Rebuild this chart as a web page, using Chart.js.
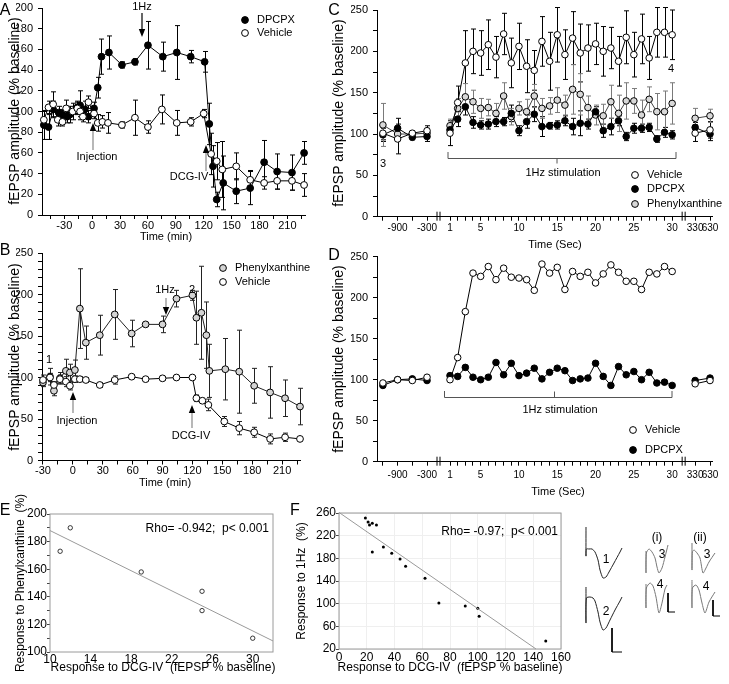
<!DOCTYPE html>
<html><head><meta charset="utf-8">
<script src="https://cdn.jsdelivr.net/npm/chart.js@4.4.1/dist/chart.umd.min.js"></script>
<style>
html,body{margin:0;padding:0;background:#fff;}
body{position:relative;width:729px;height:684px;overflow:hidden;}
canvas{position:absolute;}
</style></head><body>
<canvas id="cA" width="729" height="684" style="left:0;top:0"></canvas>
<canvas id="cB" width="729" height="684" style="left:0;top:0"></canvas>
<canvas id="cC" width="729" height="684" style="left:0;top:0"></canvas>
<canvas id="cD" width="729" height="684" style="left:0;top:0"></canvas>
<canvas id="cE" width="729" height="684" style="left:0;top:0"></canvas>
<canvas id="cF" width="729" height="684" style="left:0;top:0"></canvas>
<canvas id="t1" width="40" height="60" style="left:584px;top:524px"></canvas>
<canvas id="t2" width="40" height="76" style="left:584px;top:580px"></canvas>
<canvas id="t3" width="30" height="40" style="left:644px;top:540px"></canvas>
<canvas id="t4" width="36" height="40" style="left:644px;top:578px"></canvas>
<canvas id="t5" width="30" height="40" style="left:690px;top:538px"></canvas>
<canvas id="t6" width="34" height="44" style="left:690px;top:576px"></canvas>
<script>
// ================= DATA =================
// Panel A : time (min), fEPSP amplitude (% baseline), SEM
const timeA_dpcpx  = [-52,-47,-42,-36,-32,-27,-24,-16,-13,-8,-4,2,6,10,18,32,46,60,76,91,106,121,126,130,134,141,155,170,185,199,215,228];
const fepspA_dpcpx = [87,85,102,99,97,95,97,104,106,102,95,103,123,153,157,145,148,164,153,157,153,148,88,47,15,31,23,26,51,42,41,60];
const semA_dpcpx   = [14,12,8,6,5,6,8,6,14,8,6,6,10,17,16,3,3,23,14,26,6,10,20,20,7,26,12,16,21,17,17,11];
const timeA_vehicle  = [-52,-47,-42,-37,-32,-28,-21,-16,-13,-10,-4,2,6,11,17,32,46,60,75,91,106,120,128,134,140,155,170,185,199,215,228];
const fepspA_vehicle = [92,104,107,92,90,103,100,103,100,95,109,98,89,90,89,87,94,85,102,89,90,98,59,52,44,47,34,31,33,33,29];
const semA_vehicle   = [8,6,12,6,4,8,8,6,5,5,6,5,8,6,10,3,17,6,14,12,4,4,20,18,27,13,9,6,8,9,11];
const ticksA_time  = [-45,-30,-15,0,15,30,45,60,75,90,105,120,135,150,165,180,195,210,225];
const labelsA_time = [-30,0,30,60,90,120,150,180,210];
const ticksA_fepsp = [0,20,40,60,80,100,120,140,160,180,200];

// Panel B
const timeB_phenyl  = [-30,-23,-19,-13,-7,-3,2,7,13,27,42,59,73,90,104,120,124,129,134,137,153,167,182,198,213,228];
const fepspB_phenyl = [94,101,84,99,108,106,109,183,142,151,176,153,164,164,195,199,172,178,151,108,110,107,90,82,75,65];
const semB_phenyl   = [5,10,6,7,14,10,12,48,20,24,30,16,2,10,10,6,32,56,40,32,37,50,21,31,22,22];
const timeB_vehicle  = [-30,-23,-19,-13,-7,-3,2,7,13,27,42,59,73,90,104,120,124,130,136,152,167,182,198,213,228];
const fepspB_vehicle = [97,100,91,98,95,90,98,98,97,91,97,101,98,99,100,100,75,72,67,47,39,34,26,28,26];
const semB_vehicle   = [6,5,4,5,6,5,4,3,3,3,5,2,2,2,2,2,4,3,7,6,8,6,6,5,2];
const ticksB_time  = [-30,-15,0,15,30,45,60,75,90,105,120,135,150,165,180,195,210,225];
const labelsB_time = [-30,0,30,60,90,120,150,180,210];
const ticksB_fepsp = [0,10,20,30,40,50,60,70,80,90,100,110,120,130,140,150,160,170,180,190,200,210,220,230,240,250];
const labelsB_fepsp = [0,50,100,150,200,250];

// Panels C and D : time (s) relative to 1Hz stimulation
const timeCD = [-1200,-900,-600,-300,1,2,3,4,5,6,7,8,9,10,11,12,13,14,15,16,17,18,19,20,21,22,23,24,25,26,27,28,29,30,330,630];
const labelsCD_time = [-900,-300,1,5,10,15,20,25,30,330,630];
const ticksCD_fepsp = [0,25,50,75,100,125,150,175,200,225,250];
const labelsCD_fepsp = [0,50,100,150,200,250];
const fepspC_vehicle = [101,94,101,104, 101,138,186,200,198,208,193,221,186,206,182,177,212,188,220,196,216,198,204,209,200,204,188,217,196,215,192,223,223,220, 101,105];
const semC_vehicle   = [8,18,3,6, 15,20,39,27,27,30,25,25,30,28,32,24,30,35,33,30,32,35,28,25,30,25,30,32,27,30,26,30,30,30, 10,10];
const fepspC_dpcpx   = [99,107,96,97, 105,118,133,114,111,112,115,115,125,104,115,124,109,110,111,116,109,113,112,127,104,109,116,97,107,107,108,94,102,99, 108,100];
const semC_dpcpx     = [8,12,3,6, 6,9,10,7,5,6,6,5,10,6,8,9,12,4,5,6,10,15,6,6,8,10,6,5,6,5,5,4,6,5, 6,8];
const fepspC_phenyl  = [111,100,100,101, 110,131,145,139,131,132,125,146,121,131,127,146,131,134,141,135,154,148,132,123,122,139,125,140,140,123,142,127,127,137, 119,122];
const semC_phenyl    = [26,8,4,6, 8,12,16,14,12,10,12,16,10,8,15,14,12,10,15,12,30,25,14,12,14,20,22,22,15,18,15,22,25,25, 12,8];
const fepspD_vehicle = [96,100,99,103, 100,127,183,230,226,238,222,236,225,224,222,209,241,230,237,210,232,226,231,218,229,240,231,220,220,210,231,229,238,232, 95,99];
const fepspD_dpcpx   = [93,100,101,99, 105,104,115,103,100,103,121,106,120,105,108,114,101,109,114,111,99,101,102,120,104,93,116,106,110,100,109,96,97,93, 99,102];

// Panel E
const dcgE    = [11,12,19,25,25,30];
const phenylE = [173,190,158,144,130,110];
const fitE_x  = [10,32];
const fitE_y  = [188,108];
const ticksE_x = [10,12,14,16,18,20,22,24,26,28,30,32];
const labelsE_x = [10,14,18,22,26,30];
const ticksE_y = [100,110,120,130,140,150,160,170,180,190,200];
const labelsE_y = [100,120,140,160,180,200];

// Panel F
const dcgF = [19,21,22,24,27,24,32,38,44,48,62,72,91,100,101,149];
const hzF  = [251,244,239,242,239,191,200,189,179,166,145,101,96,92,78,34];
const fitF_x = [0,142];
const fitF_y = [261,20];
const ticksF_x = [0,20,40,60,80,100,120,140,160];
const ticksF_y = [20,60,100,140,180,220,260];

// Sample traces (ms, mV)
const tr1_ms = [0,0,0.1,0.75,1.5,2.25,3,3.5,4.25,5,5.75,7,8.5,9];
const tr1_mV = [0.55,-0.175,0,0,0,-0.075,-0.275,-0.525,-0.725,-0.7,-0.575,-0.35,-0.075,0.025];
const tr2_ms = [0,0,0.1,1,1.75,2.25,3,3.5,4.25,5,6,7.25,8.5,9];
const tr2_mV = [0.275,-0.625,0,0.025,0,-0.075,-0.35,-0.6,-0.8,-0.75,-0.55,-0.3,-0.075,0.025];
const bar2_ms = [6.5,6.5,9];
const bar2_mV = [-0.75,-1.35,-1.35];
const tr3i_ms = [0,0,0.1,0.75,1.5,2.25,2.75,3.25,4,4.75,5.5];
const tr3i_mV = [0.05,-0.5,0,0.1,0.025,-0.125,-0.35,-0.5,-0.375,-0.1,0.2];
const tr4i_ms = [0,0,0.1,1,1.75,2.5,3.25,4,4.75,5.25];
const tr4i_mV = [0.1,-0.5,0,0.125,0.05,-0.225,-0.625,-0.375,-0.025,0.075];
const bar4i_ms = [5.5,5.5,7.25];
const bar4i_mV = [-0.125,-0.6,-0.6];
const tr3ii_ms = [0,0,0.1,0.5,1.25,2,2.75,3.5,4.25,5.75];
const tr3ii_mV = [0.225,-0.45,0,0.05,-0.025,-0.15,-0.525,-0.4,-0.25,-0.025];
const tr4ii_ms = [0,0,0.1,1,1.75,2.5,3.25,4.25,5.75];
const tr4ii_mV = [0.2,-0.5,0,0.075,-0.05,-0.375,-0.625,-0.35,-0.1];
const bar4ii_ms = [5.25,5.25,7];
const bar4ii_mV = [-0.3,-0.7,-0.7];

// ================= FONTS =================
function hasFont(name){
  const c=document.createElement('canvas').getContext('2d');
  const s='Phenylxanthine 0123456789 fEPSP';
  let diff=false;
  ['monospace','serif'].forEach(g=>{
    c.font='40px '+g; const a=c.measureText(s).width;
    c.font='40px "'+name+'", '+g; const b=c.measureText(s).width;
    if(Math.abs(a-b)>0.5) diff=true;
  });
  return diff;
}
const NARROW = hasFont('Liberation Sans Narrow');
const HFAM = NARROW ? "'Liberation Sans Narrow', 'Liberation Sans', Arial, sans-serif" : "'Liberation Sans', Arial, sans-serif";
const HS = NARROW ? 13 : 11;
const HSCD = NARROW ? 12 : 10;
const RFAM = "'Liberation Sans', Arial, sans-serif";
const hf = s => s+'px '+HFAM;
const rf = s => s+'px '+RFAM;

Chart.defaults.font.family = HFAM;
Chart.defaults.color = '#000';

// ================= HELPERS =================
const W=729, H=684;
function zeroPad(s){ s.paddingTop=0; s.paddingBottom=0; s.paddingLeft=0; s.paddingRight=0; }
function txt(ctx,s,x,y,font,align,color){
  ctx.save(); ctx.font=font; ctx.fillStyle=color||'#000'; ctx.textAlign=align||'center'; ctx.textBaseline='middle';
  ctx.fillText(s,x,y); ctx.restore();
}
function vtxt(ctx,s,x,y,font){
  ctx.save(); ctx.translate(x,y); ctx.rotate(-Math.PI/2); ctx.font=font; ctx.fillStyle='#000';
  ctx.textAlign='center'; ctx.textBaseline='middle'; ctx.fillText(s,0,0); ctx.restore();
}
function arrow(ctx,x,yT,yH,shaft,head){
  const d=Math.sign(yH-yT), hl=8, hw=3.2;
  ctx.save(); ctx.strokeStyle=shaft; ctx.lineWidth=1.2;
  ctx.beginPath(); ctx.moveTo(x,yT); ctx.lineTo(x,yH-d*hl); ctx.stroke();
  ctx.fillStyle=head; ctx.beginPath(); ctx.moveTo(x,yH); ctx.lineTo(x-hw,yH-d*hl); ctx.lineTo(x+hw,yH-d*hl); ctx.closePath(); ctx.fill();
  ctx.restore();
}
function marker(ctx,x,y,fill){
  ctx.save(); ctx.beginPath(); ctx.arc(x,y,3.4,0,Math.PI*2); ctx.fillStyle=fill; ctx.fill();
  ctx.lineWidth=1; ctx.strokeStyle='#000'; ctx.stroke(); ctx.restore();
}
function seg(ctx,pts,color,w){
  ctx.save(); ctx.strokeStyle=color||'#000'; ctx.lineWidth=w||1; ctx.beginPath();
  pts.forEach((p,i)=> i?ctx.lineTo(p[0],p[1]):ctx.moveTo(p[0],p[1])); ctx.stroke(); ctx.restore();
}
const errorBars = {
  id:'errorBars',
  beforeDatasetsDraw(chart){
    const ctx=chart.ctx, xs=chart.scales.x, ys=chart.scales.y;
    chart.data.datasets.forEach(ds=>{
      if(!ds.errColor) return;
      ctx.save(); ctx.strokeStyle=ds.errColor; ctx.lineWidth=1;
      ds.data.forEach(p=>{
        if(p.y==null || !p.e) return;
        const px=Math.round(xs.getPixelForValue(p.x))+0.5;
        const y1=ys.getPixelForValue(p.y+p.e), y2=ys.getPixelForValue(p.y-p.e);
        ctx.beginPath(); ctx.moveTo(px,y1); ctx.lineTo(px,y2);
        ctx.moveTo(px-2.5,y1); ctx.lineTo(px+2.5,y1); ctx.moveTo(px-2.5,y2); ctx.lineTo(px+2.5,y2);
        ctx.stroke();
      });
      ctx.restore();
    });
  }
};
const mkPts=(xs,ys,es)=>xs.map((x,i)=>({x:x,y:ys[i],e:es?es[i]:0}));
function series(data,fill,opt){
  return Object.assign({data:data, showLine:true, borderColor:'#000', borderWidth:1, pointRadius:3.4,
    pointBackgroundColor:fill, pointBorderColor:'#000', pointBorderWidth:1, clip:false, tension:0, spanGaps:false}, opt||{});
}
function axisX(o, fs){
  return Object.assign({type:'linear', offset:false,
    grid:{display:true, drawOnChartArea:false, drawTicks:true, tickLength:4, color:'#000', lineWidth:1},
    border:{display:true, color:'#000', width:1},
    ticks:{autoSkip:false, maxRotation:0, minRotation:0, padding:0, color:'#000', font:{family:HFAM,size:fs||HS}}}, o);
}
function makeChart(id, box, xs, ys, datasets, plugins){
  const yW=26, xH=26;
  const xa=Object.assign({}, xs); const ya=Object.assign({}, ys);
  const xbt=xa._ticks, ybt=ya._ticks; delete xa._ticks; delete ya._ticks;
  xa.afterBuildTicks = s=>{ s.ticks = xbt.map(v=>({value:v})); };
  ya.afterBuildTicks = s=>{ s.ticks = ybt.map(v=>({value:v})); };
  xa.afterFit = s=>{ s.height=xH; zeroPad(s); };
  ya.afterFit = s=>{ s.width=yW; zeroPad(s); };
  return new Chart(document.getElementById(id), {
    type:'scatter',
    data:{datasets:datasets},
    options:{responsive:false, animation:false, events:[], maintainAspectRatio:false,
      layout:{padding:{left:box.l-yW, top:box.t, right:W-box.r, bottom:H-box.b-xH}},
      plugins:{legend:{display:false}, tooltip:{enabled:false}},
      scales:{x:xa, y:ya}},
    plugins:[errorBars].concat(plugins||[])
  });
}
const lab = (arr)=> (v)=> arr.some(a=>Math.abs(a-v)<1e-6) ? String(Math.round(v)) : '';

// ================= PANEL A =================
makeChart('cA', {l:42,t:8,r:305,b:215},
  axisX({min:-54, max:229, _ticks:ticksA_time, ticks:Object.assign(axisX({}).ticks,{callback:lab(labelsA_time)})}),
  axisX({min:0, max:200, _ticks:ticksA_fepsp, ticks:Object.assign(axisX({}).ticks,{padding:5, callback:v=>String(v)})}),
  [ series(mkPts(timeA_vehicle,fepspA_vehicle,semA_vehicle),'#fff',{errColor:'#000'}),
    series(mkPts(timeA_dpcpx,fepspA_dpcpx,semA_dpcpx),'#000',{errColor:'#000'}) ],
  [{id:'annA', afterDraw(c){
    const ctx=c.ctx;
    txt(ctx,'A',5,11,hf(16));
    vtxt(ctx,'fEPSP amplitude (% baseline)',15,111,rf(14));
    txt(ctx,'Time (min)',166,237,hf(HS));
    arrow(ctx,142,13,37,'#000','#000'); txt(ctx,'1Hz',142,7,hf(HS));
    arrow(ctx,93,150,123,'#888','#000'); txt(ctx,'Injection',97,157,hf(HS));
    arrow(ctx,206,171,145,'#888','#000'); txt(ctx,'DCG-IV',189,177,hf(HS));
    marker(ctx,245,20,'#000'); txt(ctx,'DPCPX',257,20,hf(HS),'left');
    marker(ctx,245,33,'#fff'); txt(ctx,'Vehicle',257,33,hf(HS),'left');
  }}]);

// ================= PANEL B =================
makeChart('cB', {l:42,t:253,r:300,b:460.5},
  axisX({min:-31, max:228, _ticks:ticksB_time, ticks:Object.assign(axisX({}).ticks,{callback:lab(labelsB_time)})}),
  axisX({min:0, max:250, _ticks:ticksB_fepsp, ticks:Object.assign(axisX({}).ticks,{padding:5, callback:lab(labelsB_fepsp)})}),
  [ series(mkPts(timeB_vehicle,fepspB_vehicle,semB_vehicle),'#fff',{errColor:'#222'}),
    series(mkPts(timeB_phenyl,fepspB_phenyl,semB_phenyl),'#d4d4d4',{errColor:'#222', borderColor:'#222'}) ],
  [{id:'annB', afterDraw(c){
    const ctx=c.ctx;
    txt(ctx,'B',5,251,hf(16));
    vtxt(ctx,'fEPSP amplitude (% baseline)',15,357,rf(14));
    txt(ctx,'Time (min)',165,483,hf(HS));
    txt(ctx,'1',49,360,hf(HS));
    arrow(ctx,166,298,315,'#888','#000'); txt(ctx,'1Hz',165,290,hf(HS));
    txt(ctx,'2',192,290,hf(HS));
    arrow(ctx,73,413,392,'#888','#000'); txt(ctx,'Injection',77,421,hf(HS));
    arrow(ctx,192,428,405,'#888','#000'); txt(ctx,'DCG-IV',191,436,hf(HS));
    marker(ctx,223,268,'#d4d4d4'); txt(ctx,'Phenylxanthine',235,268,hf(HS),'left');
    marker(ctx,223,282,'#fff'); txt(ctx,'Vehicle',235,282,hf(HS),'left');
  }}]);

// ================= PANELS C & D =================
function posCD(t){ if(t<0) return -2.0+(t+300)/300*1.92; if(t<=30) return t; return 33+(t-330)/300*1.94; }
function cdData(vals,sems){
  const out=[]; let prev=null;
  timeCD.forEach((t,i)=>{
    const sg = t<0?0:(t<=30?1:2);
    if(prev!==null && sg!==prev) out.push({x:(posCD(timeCD[i-1])+posCD(t))/2, y:null});
    out.push({x:posCD(t), y:vals[i], e:sems?sems[i]:0}); prev=sg;
  });
  return out;
}
const cdX = (pad)=> axisX({min:-8.53, max:35.2, _ticks:timeCD.map(posCD),
  ticks:Object.assign(axisX({},HSCD).ticks,{padding:pad, callback:(v,i)=> labelsCD_time.includes(timeCD[i]) ? String(timeCD[i]) : ''})}, HSCD);
const cdY = ()=> axisX({min:0, max:250, _ticks:ticksCD_fepsp, ticks:Object.assign(axisX({}).ticks,{padding:5, callback:lab(labelsCD_fepsp)})});
function breaks(c){
  const ctx=c.ctx, b=c.chartArea.bottom;
  [-0.5,31.5].forEach(p=>{
    const x=c.scales.x.getPixelForValue(p);
    seg(ctx,[[x-1.5,b-5],[x-1.5,b+4]],'#000',1); seg(ctx,[[x+1.5,b-5],[x+1.5,b+4]],'#000',1);
  });
}
makeChart('cC', {l:377,t:10,r:712,b:216.7}, cdX(2), cdY(),
  [ series(cdData(fepspC_vehicle,semC_vehicle),'#fff',{errColor:'#000', pointRadius:3.3}),
    series(cdData(fepspC_dpcpx,semC_dpcpx),'#000',{errColor:'#000', pointRadius:3.3}),
    series(cdData(fepspC_phenyl,semC_phenyl),'#d8d8d8',{errColor:'#7a7a7a', borderColor:'#444', pointRadius:3.3}) ],
  [{id:'annC', afterDraw(c){
    const ctx=c.ctx;
    breaks(c);
    txt(ctx,'C',334,11,hf(16));
    vtxt(ctx,'fEPSP amplitude (% baseline)',339,113,rf(14));
    txt(ctx,'Time (Sec)',555,245,hf(HS));
    txt(ctx,'3',383,164,hf(HS)); txt(ctx,'4',671,69,hf(HS));
    seg(ctx,[[448,152],[448,158.5],[676,158.5],[676,152]],'#555',1);
    seg(ctx,[[557,158.5],[557,163.5]],'#555',1);
    txt(ctx,'1Hz stimulation',563,173,hf(HS));
    marker(ctx,635,175,'#fff'); txt(ctx,'Vehicle',647,175,hf(HS),'left');
    marker(ctx,635,189,'#000'); txt(ctx,'DPCPX',647,189,hf(HS),'left');
    marker(ctx,635,204,'#d8d8d8'); txt(ctx,'Phenylxanthine',647,204,hf(HS),'left');
  }}]);

makeChart('cD', {l:377,t:256.7,r:712,b:461.7}, cdX(4), cdY(),
  [ series(cdData(fepspD_vehicle,null),'#fff',{pointRadius:3.3}),
    series(cdData(fepspD_dpcpx,null),'#000',{pointRadius:3.3}) ],
  [{id:'annD', afterDraw(c){
    const ctx=c.ctx;
    breaks(c);
    txt(ctx,'D',334,256,hf(16));
    vtxt(ctx,'fEPSP amplitude (% baseline)',339,359,rf(14));
    txt(ctx,'Time (Sec)',558,492,hf(HS));
    seg(ctx,[[444.5,391],[444.5,397.5],[672,397.5],[672,391]],'#555',1);
    seg(ctx,[[554.5,391.5],[554.5,397.5]],'#555',1);
    txt(ctx,'1Hz stimulation',560,410,hf(HS));
    marker(ctx,633,430,'#fff'); txt(ctx,'Vehicle',645,430,hf(HS),'left');
    marker(ctx,633,450,'#000'); txt(ctx,'DPCPX',645,450,hf(HS),'left');
  }}]);

// ================= PANELS E & F =================
function boxPlug(id, fn){ return {id:id, afterDraw(c){
  const ctx=c.ctx, a=c.chartArea;
  ctx.save(); ctx.strokeStyle='#9a9a9a'; ctx.lineWidth=1; ctx.strokeRect(a.left,a.top,a.right-a.left,a.bottom-a.top); ctx.restore();
  fn(c);
}}; }
const efTicks = {autoSkip:false, maxRotation:0, minRotation:0, padding:0, color:'#000', font:{family:RFAM,size:12}};
makeChart('cE', {l:50,t:514,r:273,b:652},
  {type:'linear', min:10, max:32, _ticks:ticksE_x, grid:{display:false, drawTicks:false, tickLength:0}, border:{display:false},
   ticks:Object.assign({},efTicks,{padding:0, callback:lab(labelsE_x)})},
  {type:'linear', min:100, max:200, _ticks:ticksE_y, grid:{display:true, drawOnChartArea:false, tickLength:3, tickColor:'#444', color:'#444'}, border:{display:false},
   ticks:Object.assign({},efTicks,{padding:0, callback:lab(labelsE_y)})},
  [ {data:fitE_x.map((x,i)=>({x:x,y:fitE_y[i]})), showLine:true, borderColor:'#9a9a9a', borderWidth:1, pointRadius:0, clip:false},
    {data:dcgE.map((x,i)=>({x:x,y:phenylE[i]})), showLine:false, pointRadius:2.2, pointBackgroundColor:'#fff', pointBorderColor:'#222', pointBorderWidth:0.9, clip:false} ],
  [boxPlug('annE', c=>{
    const ctx=c.ctx;
    txt(ctx,'E',5,511,hf(16));
    vtxt(ctx,'Response to Phenylxanthine  (%)',21,583,rf(12));
    txt(ctx,'Response to DCG-IV  (fEPSP % baseline)',163,668,rf(12));
    txt(ctx,'Rho= -0.942;  p< 0.001',269,529,rf(12),'right');
  })]);

makeChart('cF', {l:339,t:513,r:561,b:649},
  {type:'linear', min:0, max:160, _ticks:ticksF_x, grid:{display:true, drawOnChartArea:true, drawTicks:false, tickLength:0, color:'#efefef'}, border:{display:false},
   ticks:Object.assign({},efTicks,{padding:1, callback:v=>String(v)})},
  {type:'linear', min:20, max:260, _ticks:ticksF_y, grid:{display:true, drawOnChartArea:true, tickLength:3, tickColor:'#444', color:'#efefef'}, border:{display:false},
   ticks:Object.assign({},efTicks,{padding:0, callback:v=>String(v)})},
  [ {data:fitF_x.map((x,i)=>({x:x,y:fitF_y[i]})), showLine:true, borderColor:'#9a9a9a', borderWidth:1, pointRadius:0, clip:false},
    {data:dcgF.map((x,i)=>({x:x,y:hzF[i]})), showLine:false, pointRadius:1.5, pointBackgroundColor:'#000', pointBorderColor:'#000', pointBorderWidth:0, clip:false} ],
  [boxPlug('annF', c=>{
    const ctx=c.ctx;
    txt(ctx,'F',295,511,hf(16));
    vtxt(ctx,'Response to 1Hz  (%)',302,581,rf(12));
    txt(ctx,'Response to DCG-IV  (fEPSP % baseline)',450,668,rf(12));
    txt(ctx,'Rho= -0.97;  p< 0.001',558,532,rf(12),'right');
    // trace labels
    const f=hf(12);
    txt(ctx,'1',606,560,f); txt(ctx,'2',606,612,f);
    txt(ctx,'(i)',657,538,f); txt(ctx,'(ii)',700,538,f);
    txt(ctx,'3',662,555,f); txt(ctx,'4',660,585,f);
    txt(ctx,'3',707,555,f); txt(ctx,'4',706,587,f);
  })]);

// ================= TRACES =================
function traceChart(id, ms, mv, xr, yr, color, bar){
  const ds=[{data:ms.map((x,i)=>({x:x,y:mv[i]})), showLine:true, borderColor:color, borderWidth:1, pointRadius:0, clip:false, tension:0.25}];
  if(bar) ds.push({data:bar[0].map((x,i)=>({x:x,y:bar[1][i]})), showLine:true, borderColor:'#000', borderWidth:1, pointRadius:0, clip:false, tension:0});
  new Chart(document.getElementById(id), {type:'scatter', data:{datasets:ds},
    options:{responsive:false, animation:false, events:[], layout:{padding:0},
      plugins:{legend:{display:false}, tooltip:{enabled:false}},
      scales:{x:{type:'linear', display:false, min:xr[0], max:xr[1]}, y:{type:'linear', display:false, min:yr[0], max:yr[1]}}}});
}
traceChart('t1', tr1_ms, tr1_mV, [-0.5,9.5], [-0.875,0.625], '#222');
traceChart('t2', tr2_ms, tr2_mV, [-0.5,9.5], [-1.45,0.45], '#222', [bar2_ms,bar2_mV]);
traceChart('t3', tr3i_ms, tr3i_mV, [-0.5,7], [-0.675,0.325], '#777');
traceChart('t4', tr4i_ms, tr4i_mV, [-0.5,8.5], [-0.75,0.25], '#777', [bar4i_ms,bar4i_mV]);
traceChart('t5', tr3ii_ms, tr3ii_mV, [-0.5,7], [-0.65,0.35], '#777');
traceChart('t6', tr4ii_ms, tr4ii_mV, [-0.5,8], [-0.8,0.3], '#777', [bar4ii_ms,bar4ii_mV]);
</script>
</body></html>
